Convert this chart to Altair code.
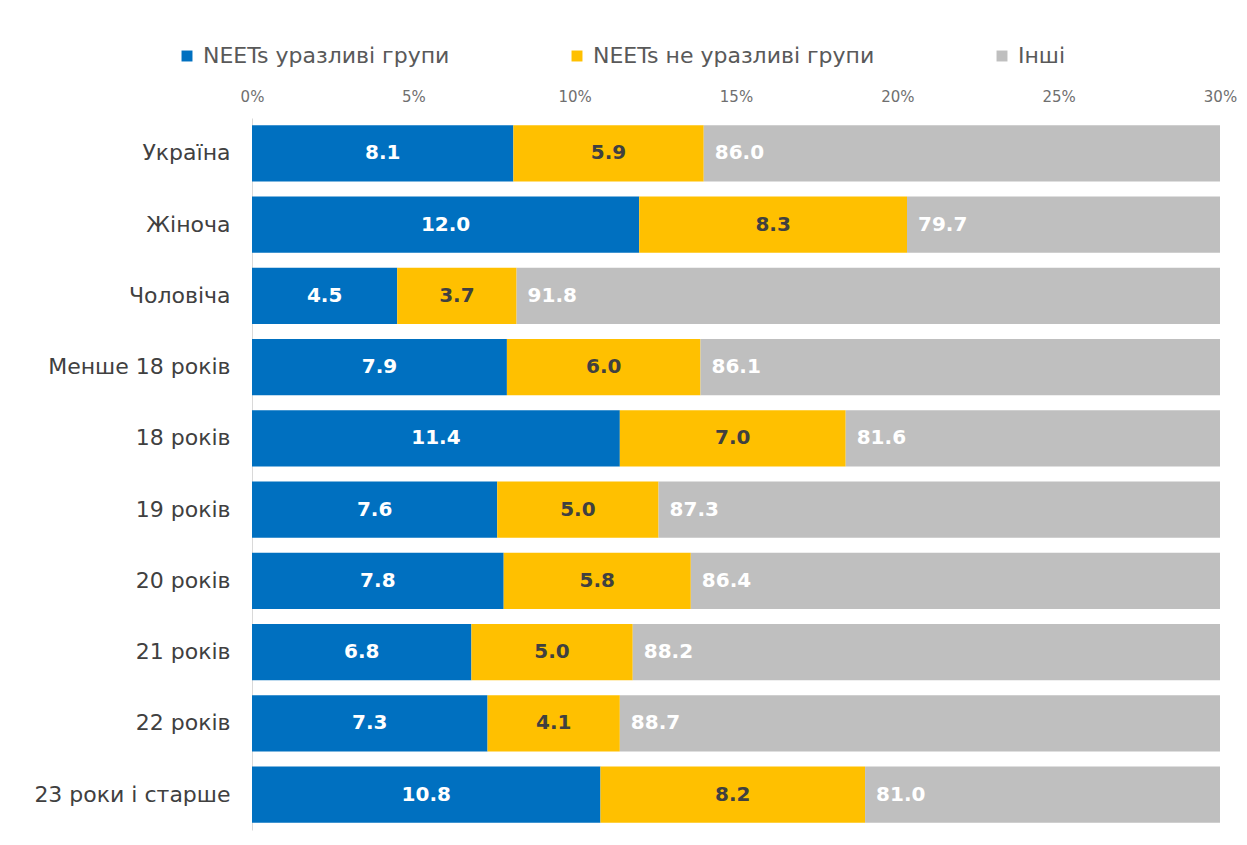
import altair as alt
import pandas as pd

categories = ["Україна", "Жіноча", "Чоловіча", "Менше 18 років", "18 років",
              "19 років", "20 років", "21 років", "22 років", "23 роки і старше"]
vulnerable = [8.1, 12.0, 4.5, 7.9, 11.4, 7.6, 7.8, 6.8, 7.3, 10.8]
not_vulnerable = [5.9, 8.3, 3.7, 6.0, 7.0, 5.0, 5.8, 5.0, 4.1, 8.2]
others = [86.0, 79.7, 91.8, 86.1, 81.6, 87.3, 86.4, 88.2, 88.7, 81.0]
series = ["NEETs уразливі групи", "NEETs не уразливі групи", "Інші"]
colors = ["#0070C0", "#FFC000", "#BFBFBF"]
text_colors = ["#FFFFFF", "#404040", "#FFFFFF"]
tick_values = [0, 5, 10, 15, 20, 25, 30]

rows = []
for i, c in enumerate(categories):
    vals = [vulnerable[i], not_vulnerable[i], others[i]]
    start = 0.0
    for s, v, tc in zip(series, vals, text_colors):
        rows.append({"cat": c, "series": s, "value": v, "start": start,
                     "end": start + v, "mid": start + v / 2,
                     "label": f"{v:.1f}", "tcolor": tc,
                     "is_last": s == "Інші"})
        start += v
df = pd.DataFrame(rows)

font = "DejaVu Sans"
xscale = alt.Scale(domain=[0, 30], nice=False)
yenc = alt.Y("cat:N", sort=categories, scale=alt.Scale(paddingInner=0.21, paddingOuter=0.1),
             axis=alt.Axis(title=None, domain=True, domainColor="#D9D9D9", domainWidth=1,
                           ticks=False, labelFontSize=22, labelColor="#404040",
                           labelFont=font, labelPadding=22, labelLimit=400))

bars = alt.Chart(df).mark_bar(clip=True).encode(
    x=alt.X("start:Q", scale=xscale,
            axis=alt.Axis(orient="top", title=None, values=tick_values,
                          labelExpr="datum.value + '%'", domain=False, ticks=False,
                          grid=False, labelFontSize=15, labelColor="#6F6F6F",
                          labelFont=font, labelPadding=14, labelFlush=False)),
    x2="end:Q",
    y=yenc,
    color=alt.Color("series:N", sort=series,
                    scale=alt.Scale(domain=series, range=colors),
                    legend=alt.Legend(title=None, orient="none", direction="horizontal",
                                      legendX=-76, legendY=-73, symbolType="square",
                                      symbolSize=120, labelFontSize=22, labelColor="#595959",
                                      labelFont=font, columnPadding=116, symbolStrokeWidth=0,
                                      labelOffset=5, labelLimit=500)),
)

mid_text = alt.Chart(df).transform_filter("!datum.is_last").mark_text(
    fontSize=20, fontWeight="bold", font=font, align="center", baseline="middle"
).encode(
    x=alt.X("mid:Q", scale=xscale),
    y=alt.Y("cat:N", sort=categories),
    text="label:N",
    color=alt.Color("tcolor:N", scale=None),
)

last_text = alt.Chart(df).transform_filter("datum.is_last").mark_text(
    fontSize=20, fontWeight="bold", font=font, align="left", baseline="middle", dx=11
).encode(
    x=alt.X("start:Q", scale=xscale),
    y=alt.Y("cat:N", sort=categories),
    text="label:N",
    color=alt.Color("tcolor:N", scale=None),
)

chart = alt.layer(bars, mid_text, last_text).properties(
    width=968, height=712,
    background="white",
    autosize=alt.AutoSizeParams(type="none"),
    padding={"left": 244, "top": 110, "right": 18, "bottom": 2},
).configure_view(strokeWidth=0, stroke=None)

chart.save("out.html", embed_options={"renderer": "svg", "actions": False})
